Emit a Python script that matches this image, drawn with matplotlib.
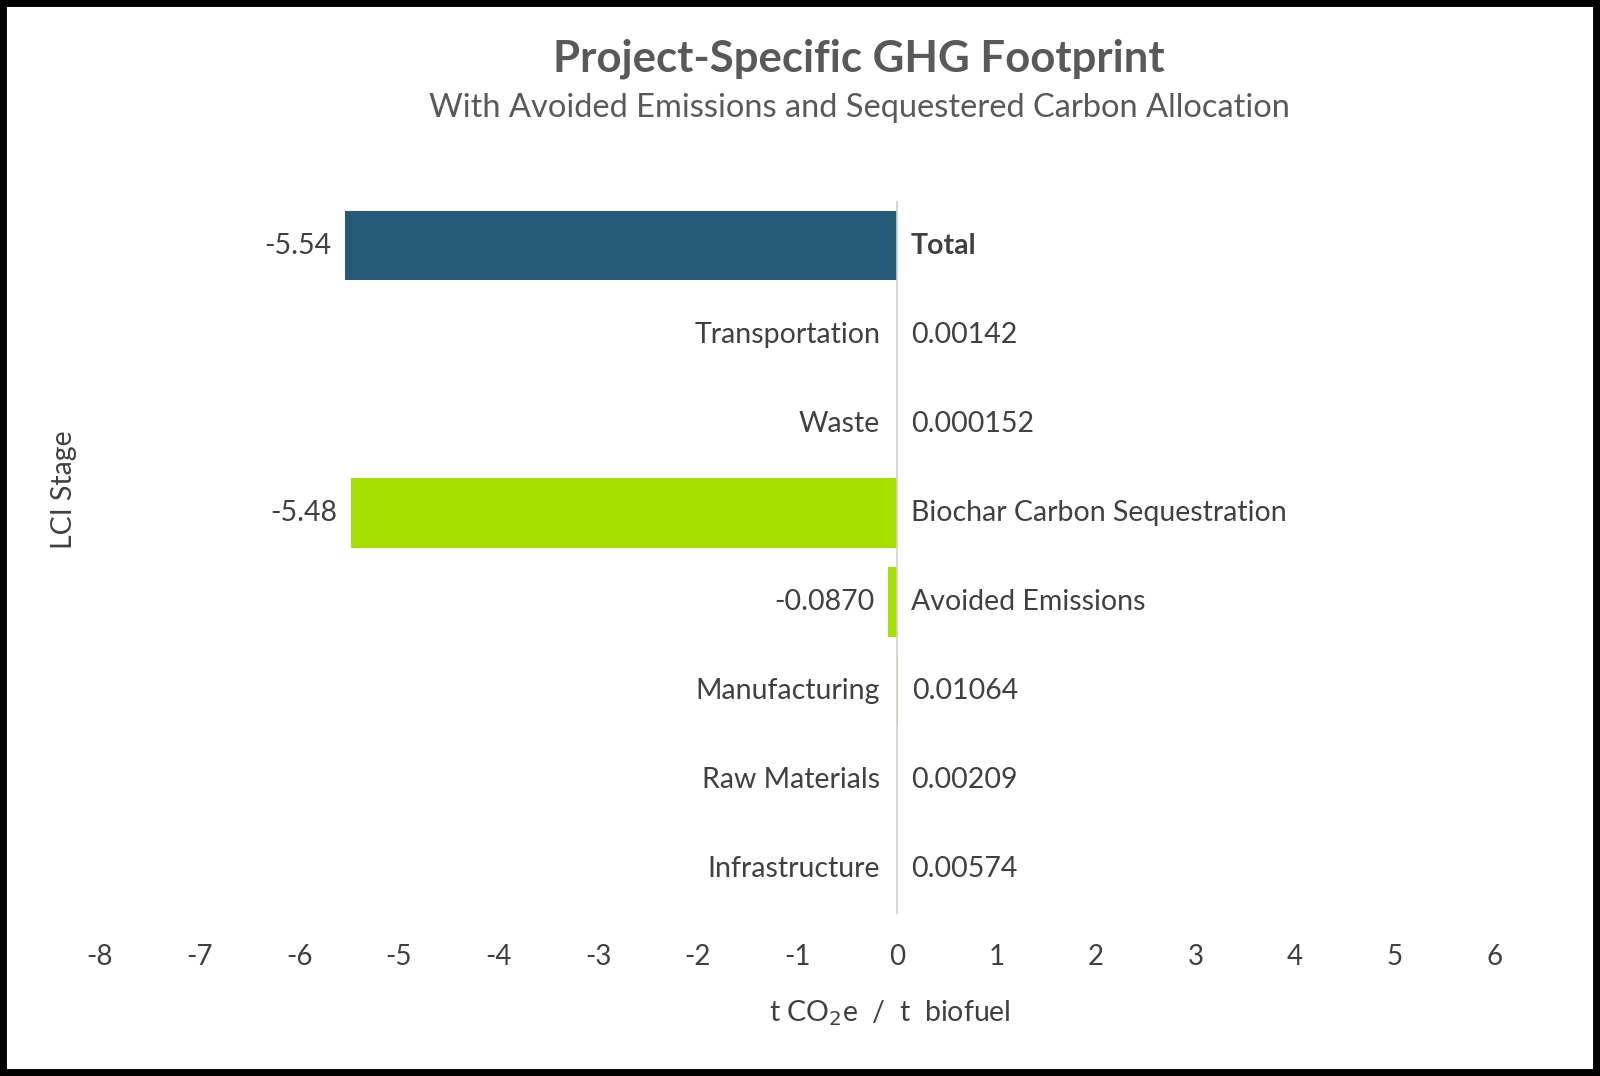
import matplotlib.pyplot as plt
from matplotlib.patches import Rectangle

# LCI stages, top to bottom
stages = ['Total', 'Transportation', 'Waste', 'Biochar Carbon Sequestration',
          'Avoided Emissions', 'Manufacturing', 'Raw Materials', 'Infrastructure']
values = [-5.54, 0.00142, 0.000152, -5.48, -0.0870, 0.01064, 0.00209, 0.00574]
value_labels = ['-5.54', '0.00142', '0.000152', '-5.48', '-0.0870',
                '0.01064', '0.00209', '0.00574']
bar_colors = ['#255A78', '#A6E000', '#A6E000', '#A6E000', '#A6E000',
              '#A6E000', '#A6E000', '#A6E000']
x_ticks = list(range(-8, 7))

plt.rcParams['font.family'] = ['Lato', 'DejaVu Sans']
text_color = '#404040'
fs = 20.5

fig = plt.figure(figsize=(16, 10.76), dpi=100)
ax = fig.add_axes([0.0625, 0.151, 0.8715, 0.662])

y = list(range(len(stages)))
ax.barh(y, values, height=0.78, color=bar_colors)
ax.set_ylim(len(stages) - 0.5, -0.5)
ax.set_xlim(-8, 6)

ax.axvline(0, color='#D0D0D0', linewidth=1.2)
for s in ax.spines.values():
    s.set_visible(False)
ax.set_yticks([])
ax.set_xticks(x_ticks)
ax.set_xticklabels([str(t) for t in x_ticks])
ax.tick_params(axis='x', length=0, labelsize=20, labelcolor=text_color, pad=22)

for i, (name, v, lab) in enumerate(zip(stages, values, value_labels)):
    weight = 'bold' if name == 'Total' else 'normal'
    if v < 0:
        ax.annotate(name, (0, i), xytext=(10, 0), textcoords='offset points',
                    ha='left', va='center', fontsize=fs, color=text_color,
                    fontweight=weight)
        ax.annotate(lab, (v, i), xytext=(-10, 0), textcoords='offset points',
                    ha='right', va='center', fontsize=fs, color=text_color)
    else:
        ax.annotate(name, (0, i), xytext=(-12, 0), textcoords='offset points',
                    ha='right', va='center', fontsize=fs, color=text_color,
                    fontweight=weight)
        ax.annotate(lab, (v, i), xytext=(10, 0), textcoords='offset points',
                    ha='left', va='center', fontsize=fs, color=text_color)

fig.text(0.537, 0.945, 'Project-Specific GHG Footprint', ha='center', va='center',
         fontsize=31.5, fontweight='bold', color='#595959')
fig.text(0.537, 0.900, 'With Avoided Emissions and Sequestered Carbon Allocation',
         ha='center', va='center', fontsize=23.5, color='#595959')
fig.text(0.556, 0.058, r't CO$_2$e  /  t  biofuel', ha='center', va='center',
         fontsize=20.5, color=text_color)
fig.text(0.040, 0.545, 'LCI Stage', ha='center', va='center', rotation=90,
         fontsize=20.5, color=text_color)

fig.patches.append(Rectangle((0, 0), 1, 1, transform=fig.transFigure,
                             fill=False, edgecolor='black', linewidth=10))

fig.savefig('out.png', dpi=100)
